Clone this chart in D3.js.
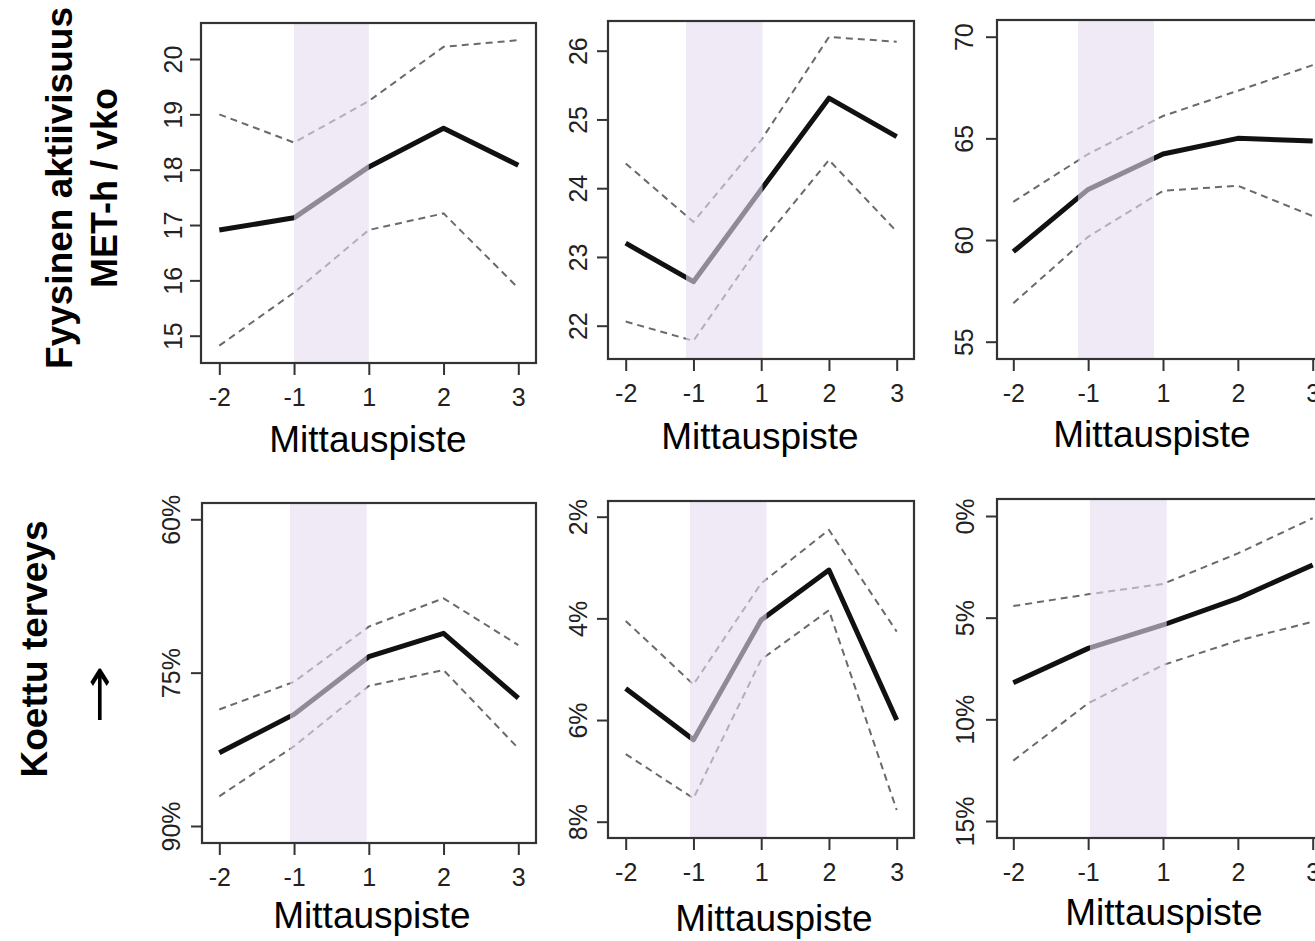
<!DOCTYPE html>
<html>
<head>
<meta charset="utf-8">
<script src="https://cdn.jsdelivr.net/npm/d3@7"></script>
<style>
  body { margin: 0; background: #fff; }
  svg { display: block; font-family: "Liberation Sans", Arial, sans-serif; }
</style>
</head>
<body>
<svg id="chart" width="1315" height="941"></svg>
<script>
// measurement points on the x axis
const xLabels = ["-2", "-1", "1", "2", "3"];

// Fyysinen aktiivisuus (MET-h / vko): mean and confidence limits
const paMeanA = [16.91, 17.13, 18.05, 18.75, 18.08];
const paUpperA = [19.0, 18.49, 19.24, 20.22, 20.34];
const paLowerA = [14.82, 15.78, 16.91, 17.21, 15.86];
const paMeanB = [23.2, 22.64, 23.98, 25.31, 24.75];
const paUpperB = [24.36, 23.51, 24.7, 26.2, 26.13];
const paLowerB = [22.06, 21.78, 23.2, 24.41, 23.37];
const paMeanC = [59.43, 62.49, 64.23, 65.0, 64.87];
const paUpperC = [61.88, 64.23, 66.1, 67.34, 68.6];
const paLowerC = [56.89, 60.16, 62.42, 62.67, 61.18];

// Koettu terveys (%), axis reversed
const shMeanA = [82.84, 79.08, 73.44, 71.15, 77.5];
const shUpperA = [78.6, 75.9, 70.5, 67.73, 72.3];
const shLowerA = [87.1, 82.2, 76.3, 74.75, 82.4];
const shMeanB = [5.38, 6.39, 4.03, 3.05, 6.0];
const shUpperB = [4.05, 5.3, 3.31, 2.26, 4.26];
const shLowerB = [6.67, 7.54, 4.81, 3.84, 7.77];
const shMeanC = [8.2, 6.51, 5.36, 4.05, 2.41];
const shUpperC = [4.43, 3.85, 3.34, 1.84, 0.11];
const shLowerC = [12.03, 9.21, 7.33, 6.13, 5.2];

// y tick values
const yTicksPaA = [15, 16, 17, 18, 19, 20];
const yTicksPaB = [22, 23, 24, 25, 26];
const yTicksPaC = [55, 60, 65, 70];
const yTicksShA = [60, 75, 90];
const yTicksShB = [2, 4, 6, 8];
const yTicksShC = [0, 5, 10, 15];

// shaded period (in index units of xLabels)
const bandFrom = [1, 0.89, 0.865, 0.946, 0.949, 1.025];
const bandTo = [2, 2.02, 1.88, 1.972, 2.08, 2.05];

const panels = [
  { mean: paMeanA, up: paUpperA, lo: paLowerA, ticks: yTicksPaA, pct: false },
  { mean: paMeanB, up: paUpperB, lo: paLowerB, ticks: yTicksPaB, pct: false },
  { mean: paMeanC, up: paUpperC, lo: paLowerC, ticks: yTicksPaC, pct: false },
  { mean: shMeanA, up: shUpperA, lo: shLowerA, ticks: yTicksShA, pct: true },
  { mean: shMeanB, up: shUpperB, lo: shLowerB, ticks: yTicksShB, pct: true },
  { mean: shMeanC, up: shUpperC, lo: shLowerC, ticks: yTicksShC, pct: true }
];

// pixel layout of each panel: frame box, x range, y range, label offset, title position
const layout = [
  { box: [201, 23, 536, 363], xr: [219.3, 518.3], yr: [335.7, 59], lab: -19, title: [368, 452] },
  { box: [608, 21, 914, 359], xr: [625.7, 896.7], yr: [325.7, 50.7], lab: -21, title: [760, 449] },
  { box: [997, 20, 1331, 359], xr: [1013.3, 1312.7], yr: [341.7, 36.7], lab: -24, title: [1152, 447] },
  { box: [202, 503, 536, 843], xr: [219.3, 518.3], yr: [519.3, 826], lab: -22, title: [372, 928] },
  { box: [608, 501, 914, 838], xr: [625.7, 896.7], yr: [516.7, 821.7], lab: -21, title: [774, 931] },
  { box: [997, 499, 1331, 838], xr: [1013.3, 1312.7], yr: [516, 821], lab: -23, title: [1164, 925] }
];

const svg = d3.select("#chart");

panels.forEach((p, i) => {
  const L = layout[i];
  const [left, top, right, bottom] = L.box;

  const xScale = d3.scaleLinear().domain([0, xLabels.length - 1]).range(L.xr);
  const yScale = d3.scaleLinear()
    .domain([p.ticks[0], p.ticks[p.ticks.length - 1]])
    .range(L.yr);

  const g = svg.append("g");

  const line = d3.line()
    .x((d, j) => xScale(j))
    .y(d => yScale(d));

  // confidence limits
  [p.up, p.lo].forEach(arr => {
    g.append("path")
      .datum(arr)
      .attr("d", line)
      .attr("fill", "none")
      .attr("stroke", "#6a6a6a")
      .attr("stroke-width", 2)
      .attr("stroke-dasharray", "7,5");
  });

  // mean
  g.append("path")
    .datum(p.mean)
    .attr("d", line)
    .attr("fill", "none")
    .attr("stroke", "#111")
    .attr("stroke-width", 5)
    .attr("stroke-linejoin", "round");

  // shaded period drawn over the lines (semi transparent)
  g.append("rect")
    .attr("x", xScale(bandFrom[i]))
    .attr("y", top)
    .attr("width", xScale(bandTo[i]) - xScale(bandFrom[i]))
    .attr("height", bottom - top)
    .attr("fill", "rgb(228,220,240)")
    .attr("fill-opacity", 0.6);

  // frame
  g.append("rect")
    .attr("x", left)
    .attr("y", top)
    .attr("width", right - left)
    .attr("height", bottom - top)
    .attr("fill", "none")
    .attr("stroke", "#333")
    .attr("stroke-width", 2.2);

  // x axis
  const xAxis = g.append("g")
    .attr("transform", `translate(0, ${bottom})`)
    .call(d3.axisBottom(xScale)
      .tickValues(d3.range(xLabels.length))
      .tickFormat(j => xLabels[j])
      .tickSize(12)
      .tickPadding(13));
  xAxis.select(".domain").remove();
  xAxis.selectAll("line").attr("stroke", "#333").attr("stroke-width", 2);
  xAxis.selectAll("text")
    .attr("fill", "#222")
    .style("font-size", "25px")
    .style("font-family", "'Liberation Sans', Arial, sans-serif");

  // y axis, labels rotated like in R
  const yAxis = g.append("g")
    .attr("transform", `translate(${left}, 0)`)
    .call(d3.axisLeft(yScale)
      .tickValues(p.ticks)
      .tickFormat(d => p.pct ? d + "%" : d)
      .tickSize(11));
  yAxis.select(".domain").remove();
  yAxis.selectAll("line").attr("stroke", "#333").attr("stroke-width", 2);
  yAxis.selectAll("text")
    .attr("transform", "rotate(-90)")
    .attr("x", 0)
    .attr("y", L.lab)
    .attr("dy", 0)
    .attr("text-anchor", "middle")
    .attr("fill", "#222")
    .style("font-size", "25px")
    .style("font-family", "'Liberation Sans', Arial, sans-serif");

  // x axis title
  g.append("text")
    .attr("x", L.title[0])
    .attr("y", L.title[1])
    .attr("text-anchor", "middle")
    .attr("fill", "#000")
    .style("font-size", "37px")
    .text("Mittauspiste");
});

// row titles
svg.append("text")
  .attr("transform", "translate(72, 188) rotate(-90)")
  .attr("text-anchor", "middle")
  .style("font-size", "37px")
  .style("font-weight", "bold")
  .text("Fyysinen aktiivisuus");

svg.append("text")
  .attr("transform", "translate(117, 188) rotate(-90)")
  .attr("text-anchor", "middle")
  .style("font-size", "36px")
  .style("font-weight", "bold")
  .text("MET-h / vko");

svg.append("text")
  .attr("transform", "translate(47, 649) rotate(-90)")
  .attr("text-anchor", "middle")
  .style("font-size", "37px")
  .style("font-weight", "bold")
  .text("Koettu terveys");

svg.append("text")
  .attr("transform", "translate(100, 720) scale(1, 1.6)")
  .attr("text-anchor", "middle")
  .style("font-family", "'DejaVu Sans', sans-serif")
  .style("font-size", "44px")
  .text("↑");
</script>
</body>
</html>
